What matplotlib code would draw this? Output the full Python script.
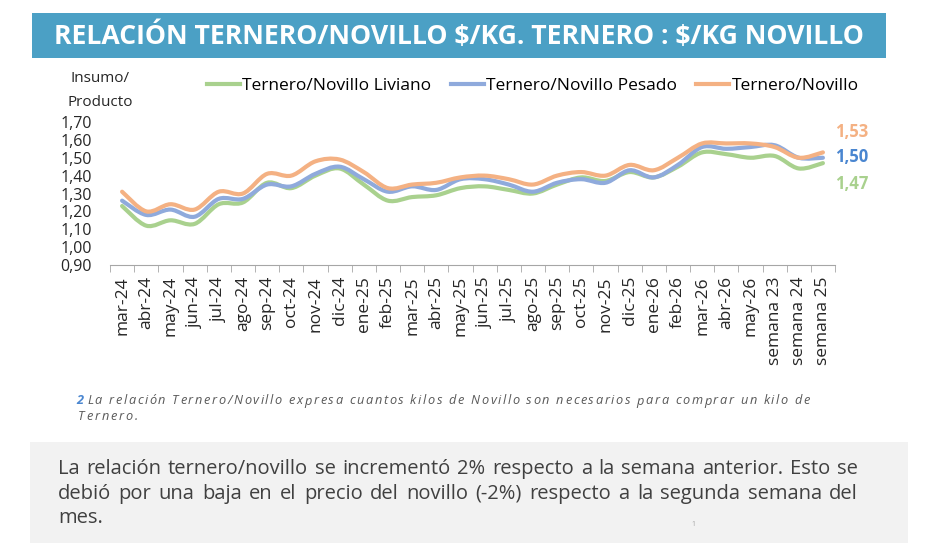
import numpy as np
import matplotlib
matplotlib.use("Agg")
import matplotlib.pyplot as plt
from matplotlib.path import Path
from matplotlib.patches import PathPatch, Rectangle
from matplotlib.lines import Line2D

W, H = 934, 543

meses = ["mar-24", "abr-24", "may-24", "jun-24", "jul-24", "ago-24", "sep-24", "oct-24",
         "nov-24", "dic-24", "ene-25", "feb-25", "mar-25", "abr-25", "may-25", "jun-25",
         "jul-25", "ago-25", "sep-25", "oct-25", "nov-25", "dic-25", "ene-26", "feb-26",
         "mar-26", "abr-26", "may-26", "semana 23", "semana 24", "semana 25"]
liviano = [1.23, 1.12, 1.15, 1.13, 1.24, 1.25, 1.36, 1.33, 1.40, 1.44, 1.35, 1.26, 1.28, 1.29, 1.33,
           1.34, 1.32, 1.30, 1.35, 1.39, 1.37, 1.42, 1.39, 1.45, 1.53, 1.52, 1.50, 1.51, 1.44, 1.47]
pesado = [1.26, 1.18, 1.21, 1.17, 1.27, 1.27, 1.35, 1.34, 1.41, 1.45, 1.38, 1.31, 1.34, 1.32, 1.38,
          1.38, 1.35, 1.31, 1.36, 1.38, 1.36, 1.43, 1.39, 1.46, 1.56, 1.55, 1.56, 1.57, 1.50, 1.50]
promedio = [1.31, 1.20, 1.24, 1.21, 1.31, 1.30, 1.41, 1.40, 1.48, 1.49, 1.42, 1.33, 1.35, 1.36, 1.39,
            1.40, 1.38, 1.35, 1.40, 1.42, 1.40, 1.46, 1.43, 1.50, 1.58, 1.58, 1.58, 1.56, 1.50, 1.53]
yticks = [0.90, 1.00, 1.10, 1.20, 1.30, 1.40, 1.50, 1.60, 1.70]

series = [
    ("Ternero/Novillo Liviano", liviano, "#A9D18E", "#A9D18E"),
    ("Ternero/Novillo Pesado", pesado, "#8FAADC", "#4A86D0"),
    ("Ternero/Novillo", promedio, "#F4B183", "#F4B183"),
]

plt.rcParams["font.family"] = ["Open Sans", "DejaVu Sans"]
plt.rcParams["text.parse_math"] = False


def smooth_path(vals):
    # curva suavizada tipo Excel (bezier por tramos)
    pts = np.column_stack([np.arange(len(vals)), np.asarray(vals, float)])
    n = len(pts)
    verts, codes = [pts[0]], [Path.MOVETO]
    for i in range(n - 1):
        p0 = pts[i - 1] if i > 0 else pts[i]
        p1, p2 = pts[i], pts[i + 1]
        p3 = pts[i + 2] if i + 2 < n else pts[i + 1]
        verts += [p1 + (p2 - p0) / 6, p2 - (p3 - p1) / 6, p2]
        codes += [Path.CURVE4] * 3
    return Path(verts, codes)


def px(x, y):
    return x / W, 1 - y / H


fig = plt.figure(figsize=(W / 100, H / 100), dpi=100)
fig.patch.set_facecolor("white")
r = fig.canvas.get_renderer()


def text_width(s, **kw):
    t = fig.text(0, 0, s + "|", **kw)
    b = fig.text(0, 0, "|", **kw)
    w = t.get_window_extent(r).width - b.get_window_extent(r).width
    t.remove()
    b.remove()
    return w


def tracked_text(x0, x1, y, s, **kw):
    # texto con espaciado entre letras para ocupar de x0 a x1
    natural = text_width(s, **kw)
    extra = (x1 - x0 - natural) / (len(s) - 1)
    for i, ch in enumerate(s):
        if ch == " ":
            continue
        xi = x0 + text_width(s[:i], **kw) + i * extra if i else x0
        fig.text(*px(xi, y), ch, va="center", **kw)


# banner del titulo
fig.add_artist(Rectangle(px(32, 58), 854 / W, 45 / H, transform=fig.transFigure,
                         facecolor="#4BA0C5", edgecolor="none"))
fig.text(*px(459, 36), "RELACIÓN TERNERO/NOVILLO $/KG. TERNERO : $/KG NOVILLO",
         color="white", fontsize=19.2, fontweight="bold", ha="center", va="center")

ax = fig.add_axes([110 / W, 1 - 265 / H, 725 / W, 143 / H])
for name, vals, col, _ in series:
    ax.add_patch(PathPatch(smooth_path(vals), facecolor="none", edgecolor=col,
                           lw=3, capstyle="round", joinstyle="round"))

ax.set_xlim(-0.5, len(meses) - 0.5)
ax.set_ylim(0.9, 1.7)
ax.set_xticks(np.arange(len(meses)))
ax.set_xticklabels(meses, rotation=90, fontsize=12.5, color="#262626")
ax.set_xticks(np.arange(len(meses) + 1) - 0.5, minor=True)
ax.tick_params(axis="x", which="major", length=0, pad=8)
ax.tick_params(axis="x", which="minor", length=5, color="#A6A6A6")
ax.set_yticks(yticks)
ax.set_yticklabels([f"{v:.2f}".replace(".", ",") for v in yticks], fontsize=11.5, color="#262626")
ax.tick_params(axis="y", length=0, pad=13)
for s in ["top", "right", "left"]:
    ax.spines[s].set_visible(False)
ax.spines["bottom"].set_color("#A6A6A6")
ax.patch.set_visible(False)

# etiquetas del ultimo valor
for (name, vals, col, lcol), dy in zip(series, [184, 157, 132]):
    fig.text(*px(852, dy), f"{vals[-1]:.2f}".replace(".", ","), color=lcol,
             fontsize=12, fontweight="bold", ha="center", va="center")

fig.text(*px(100, 78), "Insumo/", fontsize=11, ha="center", va="center", color="#262626")
fig.text(*px(100, 102), "Producto", fontsize=11, ha="center", va="center", color="#262626")

handles = [Line2D([], [], color=c, lw=3) for _, _, c, _ in series]
fig.legend(handles, [s[0] for s in series], loc="center", bbox_to_anchor=px(533, 86),
           ncol=3, frameon=False, fontsize=12.5, handlelength=1.9, handletextpad=0.15,
           columnspacing=1.1)

# nota al pie
fig.text(*px(76, 401), "2", color="#4A86D0", fontsize=9.2, fontweight="bold",
         style="italic", va="center")
nota = dict(color="#595959", fontsize=9.2, style="italic")
tracked_text(87, 810, 401, "La relación Ternero/Novillo expresa cuantos kilos de Novillo son "
             "necesarios para comprar un kilo de", **nota)
tracked_text(78, 138, 417, "Ternero.", **nota)

# recuadro gris con comentario
fig.add_artist(Rectangle(px(30, 543), 878 / W, 101 / H, transform=fig.transFigure,
                         facecolor="#F2F2F2", edgecolor="none"))
lineas = ["La relación ternero/novillo se incrementó 2% respecto a la semana anterior. Esto se",
          "debió por una baja en el precio del novillo (-2%) respecto a la segunda semana del",
          "mes."]
for i, (linea, y) in enumerate(zip(lineas, [469, 494, 518])):
    words = linea.split()
    txts = [fig.text(*px(58, y), w, fontsize=14.5, color="#404040", va="center") for w in words]
    widths = [t.get_window_extent(r).width for t in txts]
    if len(words) > 1 and i < len(lineas) - 1:
        gap = (858 - 58 - sum(widths)) / (len(words) - 1)
    else:
        gap = 4
    x = 58
    for t, w in zip(txts, widths):
        t.set_x(x / W)
        x += w + gap

fig.text(*px(693, 524), "1", fontsize=5, color="#A6A6A6", ha="center", va="center")

fig.savefig("out.png", dpi=100, facecolor="white")
